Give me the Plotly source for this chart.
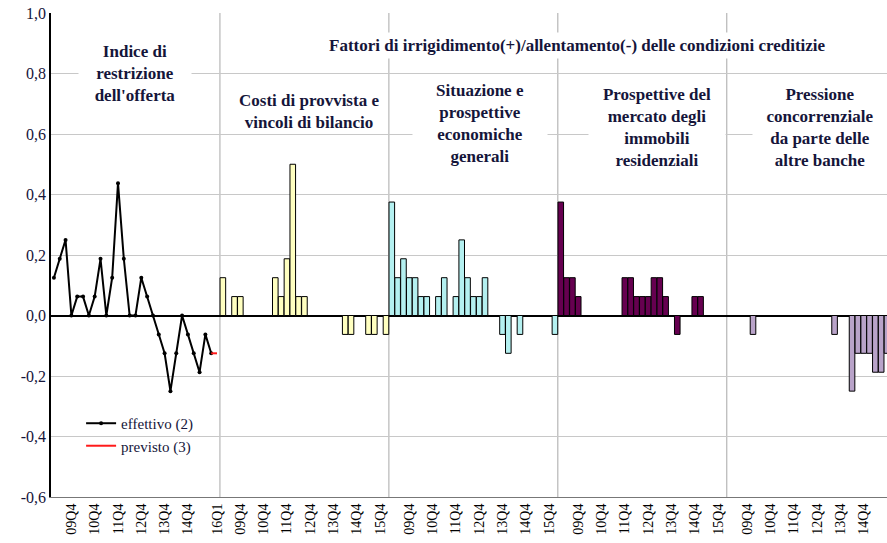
import plotly.graph_objects as go

# ---------------- data ----------------
# quarters 09Q1 ... 15Q4 plus 16Q1 (forecast)
quarters = ["09Q1", "09Q2", "09Q3", "09Q4", "10Q1", "10Q2", "10Q3", "10Q4",
            "11Q1", "11Q2", "11Q3", "11Q4", "12Q1", "12Q2", "12Q3", "12Q4",
            "13Q1", "13Q2", "13Q3", "13Q4", "14Q1", "14Q2", "14Q3", "14Q4",
            "15Q1", "15Q2", "15Q3", "15Q4", "16Q1"]

# Indice di restrizione dell'offerta (effettivo, 09Q1-15Q4)
effettivo = [0.125, 0.1875, 0.25, 0.0, 0.0625, 0.0625, 0.0, 0.0625,
             0.1875, 0.0, 0.125, 0.4375, 0.1875, 0.0, 0.0, 0.125,
             0.0625, 0.0, -0.0625, -0.125, -0.25, -0.125, 0.0, -0.0625,
             -0.125, -0.1875, -0.0625, -0.125]
# previsto (15Q4 -> 16Q1)
previsto_q = ["15Q4", "16Q1"]
previsto = [-0.125, -0.125]

costi = [0.125, 0.0, 0.0625, 0.0625, 0.0, 0.0, 0.0, 0.0,
         0.0, 0.125, 0.0625, 0.1875, 0.5, 0.0625, 0.0625, 0.0,
         0.0, 0.0, 0.0, 0.0, 0.0, -0.0625, -0.0625, 0.0,
         0.0, -0.0625, -0.0625, 0.0, -0.0625]
situazione = [0.375, 0.125, 0.1875, 0.125, 0.125, 0.0625, 0.0625, 0.0,
              0.0625, 0.125, 0.0, 0.0625, 0.25, 0.125, 0.0625, 0.0625,
              0.125, 0.0, 0.0, -0.0625, -0.125, 0.0, -0.0625, 0.0,
              0.0, 0.0, 0.0, 0.0, -0.0625]
immobili = [0.375, 0.125, 0.125, 0.0625, 0.0, 0.0, 0.0, 0.0,
            0.0, 0.0, 0.0, 0.125, 0.125, 0.0625, 0.0625, 0.0625,
            0.125, 0.125, 0.0625, 0.0, -0.0625, 0.0, 0.0, 0.0625,
            0.0625, 0.0, 0.0, 0.0, 0.0]
pressione = [0.0, 0.0, 0.0, 0.0, -0.0625, 0.0, 0.0, 0.0,
             0.0, 0.0, 0.0, 0.0, 0.0, 0.0, 0.0, 0.0,
             0.0, 0.0, -0.0625, 0.0, 0.0, -0.25, -0.125, -0.125,
             -0.125, -0.1875, -0.1875, -0.125, -0.125]

bar_series = [costi, situazione, immobili, pressione]
bar_colors = ["#FFFFC0", "#B4F0F0", "#660050", "#B9A3C9"]

panel_titles = [
    "Indice di<br>restrizione<br>dell'offerta",
    "Costi di provvista e<br>vincoli di bilancio",
    "Situazione e<br>prospettive<br>economiche<br>generali",
    "Prospettive del<br>mercato degli<br>immobili<br>residenziali",
    "Pressione<br>concorrenziale<br>da parte delle<br>altre banche",
]
main_title = "Fattori di irrigidimento(+)/allentamento(-) delle condizioni creditizie"

y_ticks = [-0.6, -0.4, -0.2, 0.0, 0.2, 0.4, 0.6, 0.8, 1.0]

# ---------------- build ----------------
NQ = len(quarters)
NP = 5
idx = {q: i for i, q in enumerate(quarters)}

FONT = "Liberation Serif"
TXT = "#15153a"

fig = go.Figure()

for p, (vals, col) in enumerate(zip(bar_series, bar_colors), start=1):
    fig.add_trace(go.Bar(
        x=[p * NQ + i for i in range(len(vals))], y=vals,
        marker=dict(color=col, line=dict(color="black", width=1)),
        showlegend=False, hoverinfo="skip"))

fig.add_trace(go.Scatter(
    x=list(range(len(effettivo))), y=effettivo, mode="lines+markers",
    line=dict(color="black", width=2), marker=dict(color="black", size=4),
    name="effettivo (2)"))
fig.add_trace(go.Scatter(
    x=[idx[q] for q in previsto_q], y=previsto, mode="lines",
    line=dict(color="#ff1a1a", width=2), name="previsto (3)"))

# tick labels
tickvals, ticktext = [], []
for p in range(NP):
    for i, q in enumerate(quarters):
        if p == 0:
            ok = (q.endswith("Q4") and q != "15Q4") or q == "16Q1"
        else:
            ok = q.endswith("Q4")
        if ok:
            tickvals.append(p * NQ + i)
            ticktext.append(q)

# panel separators
for p in range(1, NP):
    fig.add_shape(type="line", xref="x", yref="y", layer="below",
                  x0=p * NQ - 0.5, x1=p * NQ - 0.5, y0=y_ticks[0], y1=y_ticks[-1],
                  line=dict(color="#a8a8a8", width=1))

# annotations
ann_pos = [(14.0, 0.8, 112), (43.7, 0.676, None), (73.2, 0.636, 134),
           (103.5, 0.623, 136), (131.5, 0.623, 134)]
for (x, y, w), t in zip(ann_pos, panel_titles):
    kw = dict(width=w) if w else {}
    fig.add_annotation(x=x, y=y, xref="x", yref="y", text="<b>%s</b>" % t,
                       showarrow=False, bgcolor="white", borderpad=0,
                       font=dict(family=FONT, size=17, color=TXT), **kw)
fig.add_annotation(x=89.8, y=0.894, xref="x", yref="y", text="<b>%s</b>" % main_title,
                   showarrow=False, bgcolor="white", borderpad=3,
                   font=dict(family=FONT, size=17, color=TXT))

fig.update_layout(
    width=887, height=543,
    margin=dict(l=51, r=0, t=13, b=46, pad=0),
    plot_bgcolor="white", paper_bgcolor="white",
    barmode="overlay", bargap=0.04,
    font=dict(family=FONT, color=TXT),
    legend=dict(x=0.036, y=0.186, xanchor="left", yanchor="top",
                bgcolor="rgba(0,0,0,0)", font=dict(family=FONT, size=15, color=TXT),
                tracegroupgap=0, itemwidth=30),
)
fig.update_xaxes(range=[-0.5, 143.0], tickmode="array", tickvals=tickvals, ticktext=ticktext,
                 tickangle=-90, tickfont=dict(family=FONT, size=14, color="black"),
                 showgrid=False, zeroline=False, showline=True, linecolor="#777777",
                 linewidth=1, ticks="", automargin=False)
fig.update_yaxes(range=[y_ticks[0], y_ticks[-1]], tickmode="array", tickvals=y_ticks,
                 ticktext=[("%.1f" % v).replace(".", ",") for v in y_ticks],
                 tickfont=dict(family=FONT, size=16, color=TXT),
                 showgrid=True, gridcolor="#c8c8c8", gridwidth=1,
                 zeroline=True, zerolinecolor="black", zerolinewidth=1.5,
                 showline=True, linecolor="black", linewidth=1.5, ticks="",
                 automargin=False)

# remove the browser's default 8px body margin so the figure fills the window
fig.write_html("out.html", config={"displayModeBar": False},
               post_script="document.body.style.margin='0';")
